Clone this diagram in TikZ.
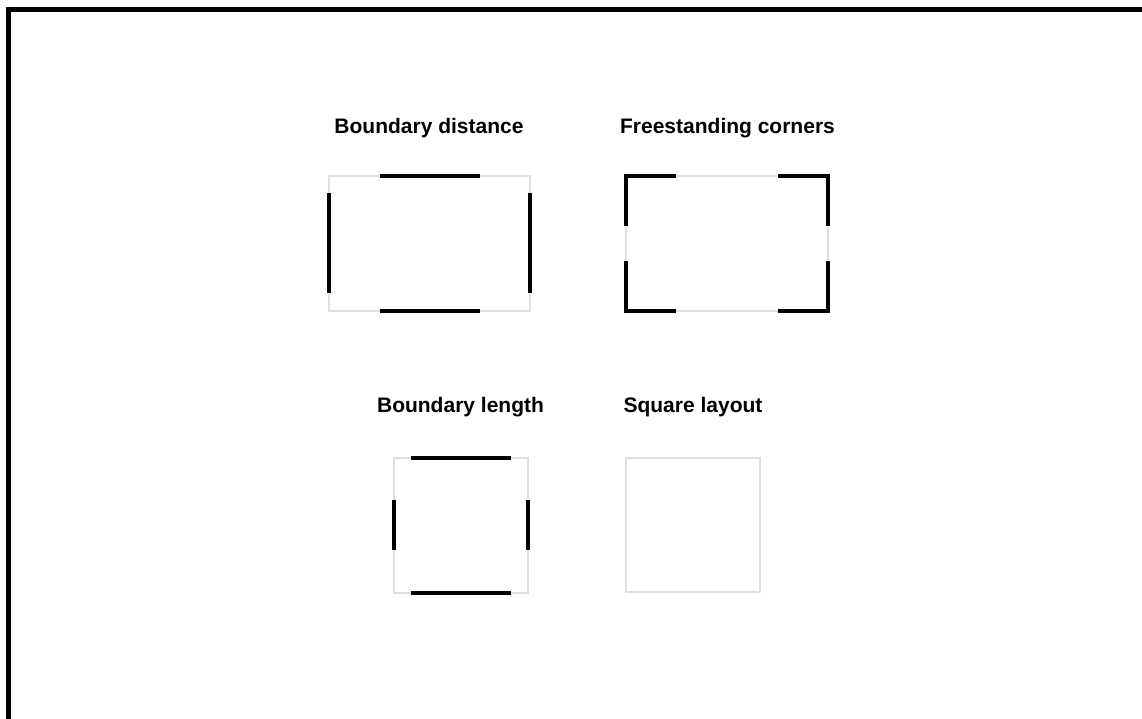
\documentclass[tikz,border=0pt]{standalone}
\usepackage{fontspec}
\setmainfont{Liberation Sans}
\usepackage{tikz}
\usetikzlibrary{positioning}
\tikzset{
  room/.style={draw=gray!25, line width=2pt, inner sep=0pt, outer sep=0pt,
               minimum width=#1},
  wall/.style={draw=black, line width=3.6pt, line cap=butt, line join=miter},
  ttl/.style={font=\fontsize{21}{25}\selectfont\bfseries, anchor=base, inner sep=0pt},
  frame/.style={draw=black, line width=5.5pt}
}
\begin{document}
\begin{tikzpicture}[x=1pt, y=-1pt]
  \useasboundingbox (0,0) rectangle (1142,719);
  \draw[frame] (8.7,725) -- (8.7,9.5) -- (1150,9.5);
  % top row
  \node[ttl] (tdist) at (429,133.3) {Boundary distance};
  \node[ttl] (tcorn) at (727.5,133.3) {Freestanding corners};
  \node[room=201pt, minimum height=135pt] (bdist) at (429.5,243.3) {};
  \node[room=202pt, minimum height=135pt] (bcorn) at (727,243.3) {};
  \draw[wall] ([xshift=-50pt]bdist.north) -- ([xshift=50pt]bdist.north);
  \draw[wall] ([xshift=-50pt]bdist.south) -- ([xshift=50pt]bdist.south);
  \draw[wall] ([yshift=-50pt]bdist.west) -- ([yshift=50pt]bdist.west);
  \draw[wall] ([yshift=-50pt]bdist.east) -- ([yshift=50pt]bdist.east);
  \draw[wall] ([yshift=-50pt]bcorn.north west) -- (bcorn.north west) -- ([xshift=50pt]bcorn.north west);
  \draw[wall] ([yshift=-50pt]bcorn.north east) -- (bcorn.north east) -- ([xshift=-50pt]bcorn.north east);
  \draw[wall] ([yshift=50pt]bcorn.south west) -- (bcorn.south west) -- ([xshift=50pt]bcorn.south west);
  \draw[wall] ([yshift=50pt]bcorn.south east) -- (bcorn.south east) -- ([xshift=-50pt]bcorn.south east);
  % bottom row
  \node[ttl] (tlen) at (460.5,412.3) {Boundary length};
  \node[ttl] (tsq) at (693,412.3) {Square layout};
  \node[room=134pt, minimum height=135pt] (blen) at (461.2,525.2) {};
  \node[room=134pt, minimum height=134pt] (bsq) at (693.2,525.2) {};
  \draw[wall] ([xshift=-50pt]blen.north) -- ([xshift=50pt]blen.north);
  \draw[wall] ([xshift=-50pt]blen.south) -- ([xshift=50pt]blen.south);
  \draw[wall] ([yshift=-25pt]blen.west) -- ([yshift=25pt]blen.west);
  \draw[wall] ([yshift=-25pt]blen.east) -- ([yshift=25pt]blen.east);
\end{tikzpicture}
\end{document}
